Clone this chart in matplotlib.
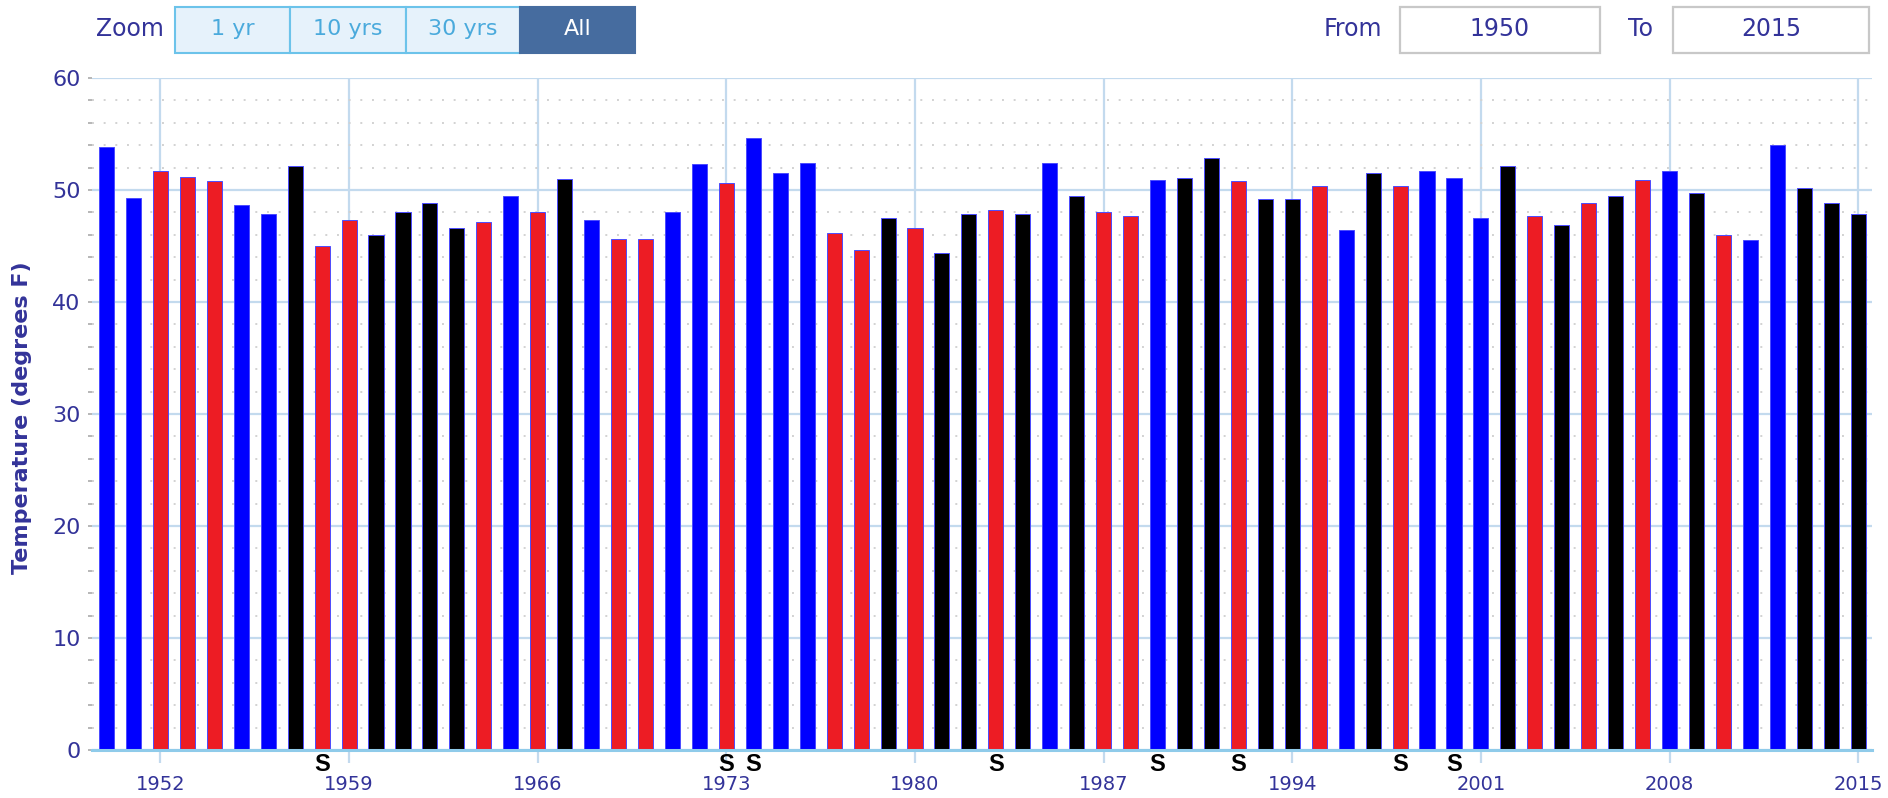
import matplotlib
matplotlib.use("Agg")
import matplotlib.pyplot as plt
from matplotlib.patches import Rectangle
from matplotlib.ticker import MultipleLocator
import matplotlib.transforms as mtransforms


W, H = 1888, 798

years = list(range(1950, 2016))
temps = [
    53.8, 49.3, 51.7, 51.2, 50.8, 48.7, 47.9, 52.1, 45.0, 47.3,  # 1950-1959
    46.0, 48.0, 48.8, 46.6, 47.1, 49.5, 48.0, 51.0, 47.3, 45.6,  # 1960-1969
    45.6, 48.0, 52.3, 50.6, 54.6, 51.5, 52.4, 46.2, 44.6, 47.5,  # 1970-1979
    46.6, 44.4, 47.9, 48.2, 47.9, 52.4, 49.5, 48.0, 47.7, 50.9,  # 1980-1989
    51.1, 52.9, 50.8, 49.2, 49.2, 50.4, 46.4, 51.5, 50.4, 51.7,  # 1990-1999
    51.1, 47.5, 52.1, 47.7, 46.9, 48.8, 49.5, 50.9, 51.7, 49.7,  # 2000-2009
    46.0, 45.5, 54.0, 50.2, 48.8, 47.9,                          # 2010-2015
]
# B = blue, R = red, K = black
kinds = list(
    "BBRRRBBKRR"
    "KKKKRBRKBR"
    "RBBRBBBRRK"
    "RKKRKBKRRB"
    "KKRKKRBKRB"
    "BBKRKRKRBK"
    "RBBKKK"
)
s_years = [1958, 1973, 1974, 1983, 1989, 1992, 1998, 2000]
x_ticks = [1952, 1959, 1966, 1973, 1980, 1987, 1994, 2001, 2008, 2015]

KIND_COLORS = {"B": "#0000ff", "R": "#ed1c24", "K": "#000000"}
TEXT_BLUE = "#333399"
GRID_BLUE = "#c3daee"


def fx(px):
    return px / W


def fy(py):
    return 1 - py / H


fig = plt.figure(figsize=(W / 100, H / 100), dpi=100)
plt.rcParams["font.family"] = ["DejaVu Sans"]

left, right, top, bottom = 91.7, 1871.7, 78, 750
ax = fig.add_axes([fx(left), fy(bottom), fx(right - left), (bottom - top) / H])

bar_colors = [KIND_COLORS[k] for k in kinds]
ax.bar(years, temps, width=0.56, color=bar_colors, edgecolor="#4b4bff",
       linewidth=0.7, zorder=3)

ax.set_xlim(1949.45, 2015.5)
ax.set_ylim(0, 60)

# grid
ax.yaxis.set_major_locator(MultipleLocator(10))
ax.yaxis.set_minor_locator(MultipleLocator(2))
ax.set_xticks(x_ticks)
ax.grid(axis="y", which="major", color=GRID_BLUE, linewidth=1.6, zorder=1)
ax.grid(axis="y", which="minor", color="#d2d2d2", linestyle=(0, (1, 5)),
        linewidth=1.4, zorder=1)
ax.grid(axis="x", which="major", color=GRID_BLUE, linewidth=1.6, zorder=1)

for side in ["left", "right", "top"]:
    ax.spines[side].set_visible(False)
ax.spines["bottom"].set_color("#8fcbea")
ax.spines["bottom"].set_linewidth(2.2)
ax.spines["bottom"].set_zorder(4)

ax.tick_params(axis="y", which="both", length=3, color="#aaaaaa", width=1.2,
               labelsize=16, labelcolor=TEXT_BLUE, pad=5)
ax.tick_params(axis="x", which="major", length=9, color=GRID_BLUE, width=1.6,
               labelsize=14, labelcolor=TEXT_BLUE, pad=9)

ax.set_ylabel("Temperature (degrees F)", fontsize=16, fontweight="bold",
              color=TEXT_BLUE)
ax.yaxis.set_label_coords(-0.0335, 0.494)

# "S" markers under selected years
trans = mtransforms.blended_transform_factory(ax.transData, ax.transAxes)
for yr in s_years:
    ax.text(yr, -0.021, "S", transform=trans, ha="center", va="center",
            fontsize=17, fontweight="bold", color="black",
            family="Liberation Sans")

# range selector UI on top
fig.text(fx(130), fy(29), "Zoom", ha="center", va="center", fontsize=17,
         color=TEXT_BLUE)
buttons = [("1 yr", 175, 290), ("10 yrs", 290, 406), ("30 yrs", 406, 520),
           ("All", 520, 635)]
for label, x0, x1 in buttons:
    active = label == "All"
    face = "#466c9f" if active else "#e6f2fb"
    edge = "#466c9f" if active else "#6cc3ea"
    fig.add_artist(Rectangle((fx(x0), fy(53)), fx(x1 - x0), 46 / H,
                             transform=fig.transFigure, facecolor=face,
                             edgecolor=edge, linewidth=1.5))
    fig.text(fx((x0 + x1) / 2), fy(29), label, ha="center", va="center",
             fontsize=16, color="white" if active else "#4aaadc")

fig.text(fx(1353), fy(29), "From", ha="center", va="center", fontsize=17,
         color=TEXT_BLUE)
fig.text(fx(1640), fy(29), "To", ha="center", va="center", fontsize=17,
         color=TEXT_BLUE)
for val, x0, x1 in [(str(years[0]), 1400, 1600), (str(years[-1]), 1673, 1869)]:
    fig.add_artist(Rectangle((fx(x0), fy(53)), fx(x1 - x0), 46 / H,
                             transform=fig.transFigure, facecolor="white",
                             edgecolor="#c8c8c8", linewidth=1.6))
    fig.text(fx((x0 + x1) / 2), fy(29), val, ha="center", va="center",
             fontsize=17, color=TEXT_BLUE)

fig.savefig("out.png", dpi=100)
